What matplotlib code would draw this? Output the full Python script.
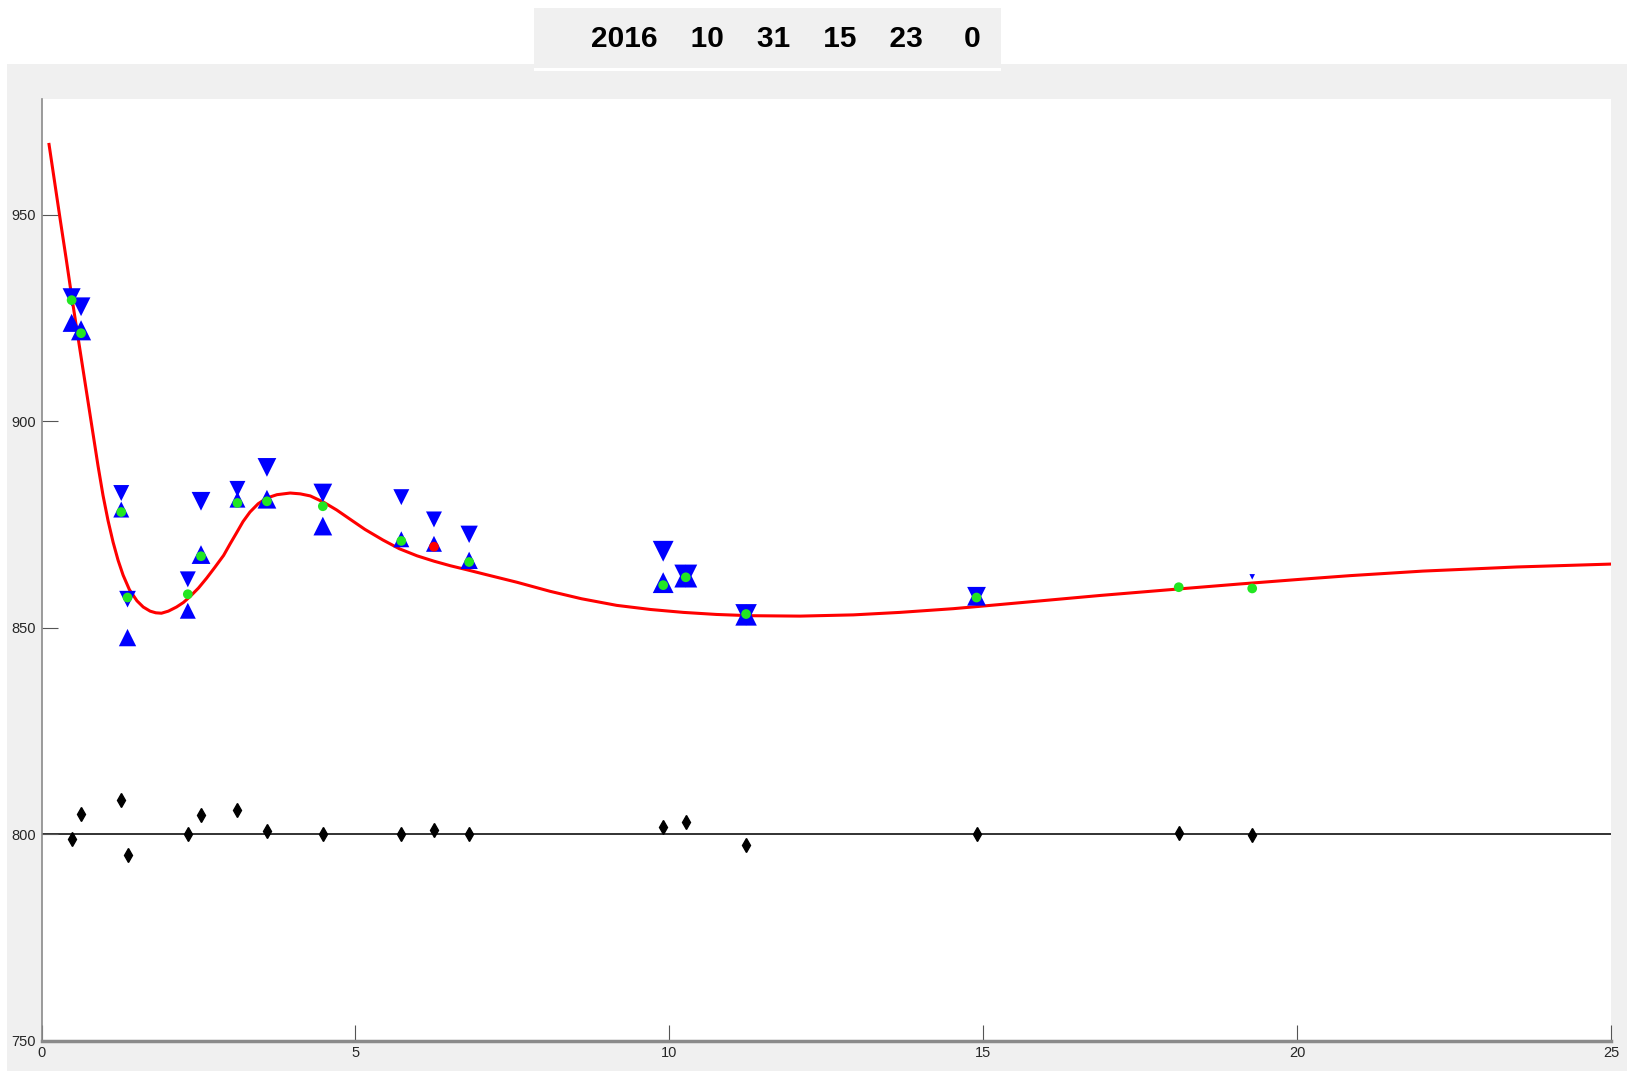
import numpy as np
import matplotlib
matplotlib.use('Agg')
import matplotlib.pyplot as plt
from matplotlib.patches import Rectangle

# red fitted curve
curve_x = [0.12, 0.21, 0.30, 0.39, 0.48, 0.56, 0.65, 0.73, 0.82, 0.90, 0.98, 1.06,
           1.14, 1.22, 1.30, 1.40, 1.52, 1.62, 1.73, 1.82, 1.91, 2.02, 2.15, 2.26,
           2.37, 2.50, 2.63, 2.76, 2.90, 3.00, 3.10, 3.21, 3.32, 3.45, 3.59, 3.75,
           3.96, 4.12, 4.28, 4.49, 4.70, 4.91, 5.15, 5.44, 5.70, 5.98, 6.25, 6.51,
           6.78, 7.04, 7.57, 8.10, 8.60, 9.16, 9.70, 10.22, 10.75, 11.28, 12.08,
           12.93, 13.67, 14.52, 15.26, 16.06, 16.86, 18.13, 19.10, 20.04, 20.84,
           22.00, 23.50, 25.00]
curve_y = [967.0, 957.8, 948.6, 939.6, 930.3, 922.4, 913.6, 905.8, 897.0, 889.2, 882.0, 875.9,
           870.7, 866.3, 862.7, 859.2, 856.5, 855.0, 854.0, 853.6, 853.5, 854.0, 855.0, 856.1,
           857.6, 859.6, 862.0, 864.6, 867.5, 870.2, 872.8, 875.7, 878.0, 880.0, 881.4, 882.2,
           882.6, 882.4, 881.9, 880.4, 878.5, 876.3, 873.8, 871.2, 869.1, 867.4, 866.1, 865.0,
           864.0, 863.0, 861.0, 858.8, 857.0, 855.4, 854.4, 853.7, 853.2, 852.9, 852.8,
           853.1, 853.7, 854.6, 855.6, 856.7, 857.8, 859.4, 860.6, 861.7, 862.6,
           863.7, 864.7, 865.4]

# measurement points
pt_x = [0.48, 0.63, 1.27, 1.37, 2.33, 2.54, 3.12, 3.59, 4.48, 5.73, 6.25, 6.81,
        9.90, 10.26, 11.22, 14.89, 18.11, 19.28]
obs_y = [929.3, 921.3, 878.0, 857.3, 858.1, 867.3, 880.2, 880.6, 879.4, 871.0, 869.6, 865.9,
         860.3, 862.2, 853.3, 857.3, 859.8, 859.5]
obs_ok = [1, 1, 1, 1, 1, 1, 1, 1, 1, 1, 0, 1, 1, 1, 1, 1, 1, 1]
up_y = [923.8, 922.0, 878.6, 847.6, 854.1, 867.7, 881.0, 881.1, 874.6, 871.4, 870.3, 866.3,
        860.9, 862.5, 853.1, 857.6, np.nan, np.nan]
down_y = [930.0, 927.7, 882.6, 856.9, 861.7, 880.6, 883.6, 888.8, 882.6, 881.6, 876.2, 872.6,
          868.5, 862.5, 853.1, 857.6, np.nan, 862.3]
up_size = [13, 14.5, 11.5, 12.5, 11.5, 13.5, 11.5, 13.5, 13.5, 11.5, 11.5, 12.5, 15, 16.5, 15.5, 13.5, 0, 0]
down_size = [13, 13.5, 11.5, 12, 11.5, 13.5, 11.5, 13.5, 13.5, 11.5, 11.5, 12.5, 15, 16.5, 15.5, 13.5, 0, 4]
resid_y = [798.8, 804.8, 808.3, 795.0, 800.0, 804.6, 805.8, 800.8, 800.0, 800.0, 801.1, 800.0,
           801.7, 803.0, 797.5, 800.0, 800.2, 799.9]

stamp = [2016, 10, 31, 15, 23, 0]

W, H = 1627, 1071
fig = plt.figure(figsize=(W / 100, H / 100), dpi=100, facecolor='white')

# grey window panel and the title box
fig.patches.append(Rectangle((7 / W, 0), 1, 1 - 64 / H, transform=fig.transFigure,
                             facecolor='#f0f0f0', edgecolor='none', zorder=-10))
fig.patches.append(Rectangle((534 / W, 1 - 71 / H), (1001 - 534) / W, 3 / H,
                             transform=fig.transFigure, facecolor='white',
                             edgecolor='none', zorder=-9))
fig.patches.append(Rectangle((534 / W, 1 - 68.3 / H), (1001 - 534) / W, 60 / H,
                             transform=fig.transFigure, facecolor='#f0f0f0',
                             edgecolor='none', zorder=-9))
title = ''.join(f'{n:>6}' for n in stamp).strip()
fig.text(786 / W, 1 - 39 / H, title, ha='center', va='center', fontsize=21.5,
         fontweight='bold', family='Liberation Sans', color='black')

ax = fig.add_axes([41.5 / W, 1 - 1040.7 / H, (1611.4 - 41.5) / W, (1040.7 - 99) / H])
ax.set_zorder(5)
ax.set_facecolor('white')

ax.axhline(800, color='#222222', lw=1.3, zorder=1)
ax.plot(curve_x, curve_y, color='#ff0000', lw=2.2, zorder=2,
        solid_joinstyle='round')

px = np.array(pt_x)
ax.scatter(px, up_y, s=np.array(up_size) ** 2, marker='^', color='#0000ff',
           linewidths=0, zorder=3)
ax.scatter(px, down_y, s=np.array(down_size) ** 2, marker='v', color='#0000ff',
           linewidths=0, zorder=3)
cols = ['#22e622' if ok else '#ff0000' for ok in obs_ok]
ax.scatter(px, obs_y, s=7 ** 2, marker='o', c=cols, linewidths=0, zorder=4)
ax.plot(px, resid_y, linestyle='none', marker='d', markersize=7.5,
        color='black', zorder=4)

ax.set_xlim(0, 25)
ax.set_ylim(750, 978)
ax.set_xticks([0, 5, 10, 15, 20, 25])
ax.set_yticks([750, 800, 850, 900, 950])

for s in ['top', 'right']:
    ax.spines[s].set_visible(False)
ax.spines['left'].set_color('#8a8a8a')
ax.spines['left'].set_linewidth(1.2)
ax.spines['bottom'].set_color('#8a8a8a')
ax.spines['bottom'].set_linewidth(2.5)

ax.tick_params(direction='in', length=11.5, width=0.8, color='#555555',
               labelsize=10.5, labelcolor='#262626', pad=4)
for lab in ax.get_xticklabels() + ax.get_yticklabels():
    lab.set_family('Liberation Sans')

fig.savefig('out.png', dpi=100, facecolor=fig.get_facecolor())
